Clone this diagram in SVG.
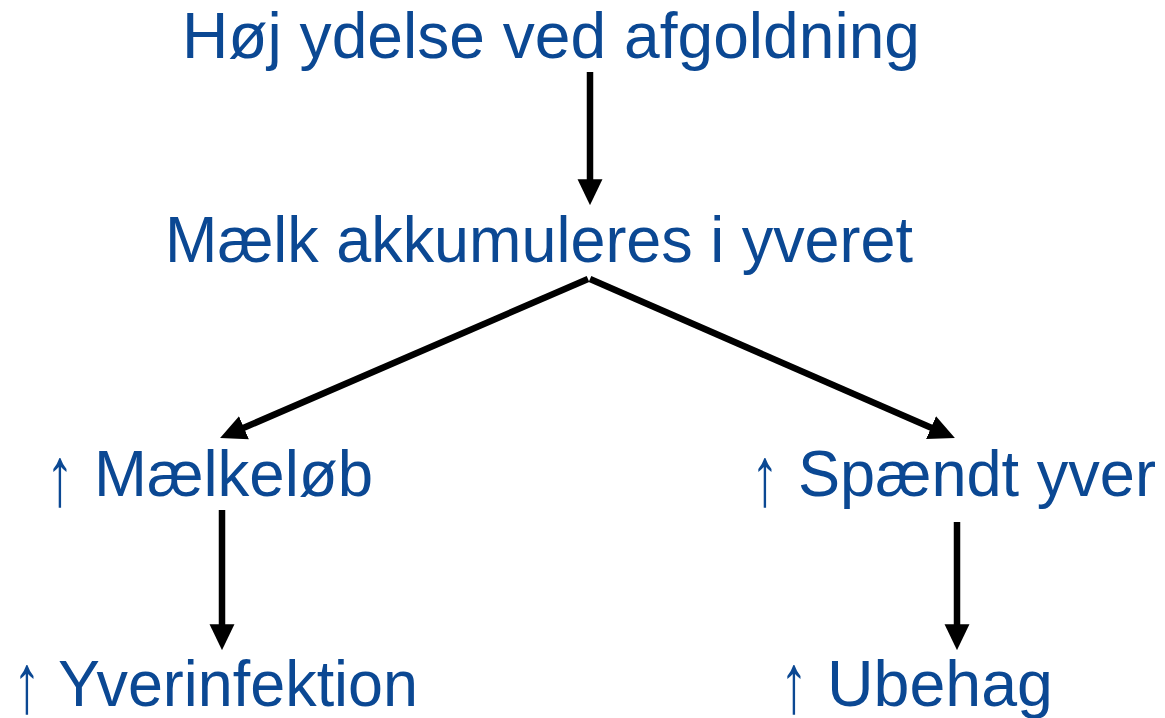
<svg xmlns="http://www.w3.org/2000/svg" width="1165" height="718" viewBox="0 0 1165 718">
<style>
.t{font-family:"Liberation Sans","DejaVu Sans",sans-serif;font-size:64px;fill:#0b4893}
.a{font-family:"Liberation Sans","DejaVu Sans",sans-serif;font-size:84px;fill:#0b4893}
.c{stroke:#000;stroke-width:6.5;fill:none}
</style>
<defs>
<marker id="ah" markerUnits="userSpaceOnUse" markerWidth="26" markerHeight="26" refX="10" refY="12" orient="auto" viewBox="0 0 24 24">
<path d="M0,0.5 L24,12 L0,23.5 z" fill="#000"/>
</marker>
</defs>
<rect width="1165" height="718" fill="#fff"/>
<g id="connectors">
<line class="c" x1="590" y1="72" x2="590" y2="190" marker-end="url(#ah)"/>
<line class="c" x1="588" y1="279" x2="234" y2="432" marker-end="url(#ah)"/>
<line class="c" x1="590" y1="279" x2="941" y2="432" marker-end="url(#ah)"/>
<line class="c" x1="222" y1="510" x2="222" y2="635" marker-end="url(#ah)"/>
<line class="c" x1="957" y1="522" x2="957" y2="635" marker-end="url(#ah)"/>
</g>
<g id="n1"><text class="t" x="182" y="58" textLength="738" lengthAdjust="spacingAndGlyphs">Høj ydelse ved afgoldning</text></g>
<g id="n2"><text class="t" x="165" y="262" textLength="748" lengthAdjust="spacingAndGlyphs">Mælk akkumuleres i yveret</text></g>
<g id="n3"><text class="a" x="46" y="505" textLength="28" lengthAdjust="spacingAndGlyphs">↑</text><text class="t" x="94" y="496" textLength="279" lengthAdjust="spacingAndGlyphs">Mælkeløb</text></g>
<g id="n4"><text class="a" x="751" y="505" textLength="28" lengthAdjust="spacingAndGlyphs">↑</text><text class="t" x="798" y="496" textLength="358" lengthAdjust="spacingAndGlyphs">Spændt yver</text></g>
<g id="n5"><text class="a" x="13" y="712" textLength="28" lengthAdjust="spacingAndGlyphs">↑</text><text class="t" x="58" y="706" textLength="360" lengthAdjust="spacingAndGlyphs">Yverinfektion</text></g>
<g id="n6"><text class="a" x="780" y="712" textLength="28" lengthAdjust="spacingAndGlyphs">↑</text><text class="t" x="827" y="706" textLength="226" lengthAdjust="spacingAndGlyphs">Ubehag</text></g>
</svg>
